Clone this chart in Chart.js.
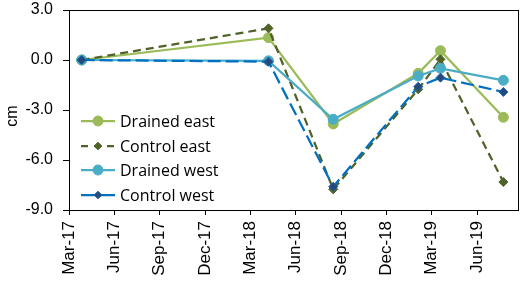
<!DOCTYPE html>
<html>
<head>
<meta charset="utf-8">
<script src="https://cdn.jsdelivr.net/npm/chart.js@4.4.1/dist/chart.umd.min.js"></script>
<style>
html,body{margin:0;padding:0;background:#fff;}
canvas{display:block;}
</style>
</head>
<body>
<canvas id="c" width="524" height="282"></canvas>
<script>
// Sampling dates and measured values (cm)
const dates = ['2017-03-27', '2018-04-07', '2018-08-16', '2019-02-04', '2019-03-19', '2019-07-24'];
const drainedEast = [0.0, 1.34, -3.84, -0.80, 0.56, -3.44];
const controlEast = [0.0, 1.90, -7.76, -1.76, 0.04, -7.32];
const drainedWest = [0.0, -0.05, -3.56, -0.96, -0.50, -1.22];
const controlWest = [0.0, -0.10, -7.60, -1.60, -1.06, -1.92];
const xTickLabels = ['Mar-17', 'Jun-17', 'Sep-17', 'Dec-17', 'Mar-18', 'Jun-18', 'Sep-18', 'Dec-18', 'Mar-19', 'Jun-19'];
const yTickValues = [-9, -6, -3, 0, 3];
const seriesNames = ['Drained east', 'Control east', 'Drained west', 'Control west'];

// months since 1 Mar 2017
function monthIndex(s) {
  const [y, m, d] = s.split('-').map(Number);
  const dim = new Date(y, m, 0).getDate();
  return (y - 2017) * 12 + (m - 3) + (d - 1) / dim;
}
const xs = dates.map(monthIndex);
const pts = arr => arr.map((v, i) => ({x: xs[i], y: v}));

const styles = [
  {color: '#9BBB59', fill: '#9BBB59', border: '#9BBB59', dash: [], point: 'circle', r: 5},
  {color: '#4F6228', fill: '#4F6228', border: '#4F6228', dash: [8, 5], point: 'rectRot', r: 4.5},
  {color: '#4BACC6', fill: '#4BACC6', border: '#4BACC6', dash: [], point: 'circle', r: 5},
  {color: '#0070C0', fill: '#254A7C', border: '#1F5C9C', dash: [13, 5], point: 'rectRot', r: 4.5}
];
const values = [drainedEast, controlEast, drainedWest, controlWest];

const datasets = values.map((arr, i) => ({
  label: seriesNames[i],
  data: pts(arr),
  borderColor: styles[i].color,
  borderWidth: 2.25,
  borderDash: styles[i].dash,
  pointStyle: styles[i].point,
  pointRadius: styles[i].r,
  pointBackgroundColor: styles[i].fill,
  pointBorderColor: styles[i].border,
  pointBorderWidth: 1,
  tension: 0,
  fill: false,
  order: 4 - i
}));

const extras = {
  id: 'extras',
  afterDraw(chart) {
    const ctx = chart.ctx;
    const a = chart.chartArea;
    ctx.save();
    ctx.strokeStyle = '#000';
    ctx.lineWidth = 1;
    ctx.strokeRect(Math.round(a.left) + 0.5, Math.round(a.top) + 0.5, Math.round(a.right - a.left), Math.round(a.bottom - a.top));
    // y title
    ctx.fillStyle = '#000';
    ctx.font = '16px "Liberation Sans", Arial, sans-serif';
    ctx.translate(13, 116);
    ctx.rotate(-Math.PI / 2);
    ctx.textAlign = 'center';
    ctx.textBaseline = 'middle';
    ctx.fillText('cm', 0, 0);
    ctx.restore();
    // legend
    ctx.save();
    const x0 = 81, x1 = 115, xm = 98, tx = 120;
    const rows = [121, 146, 170, 195];
    seriesNames.forEach((name, i) => {
      const s = styles[i];
      const y = rows[i];
      ctx.strokeStyle = s.color;
      ctx.lineWidth = 2.25;
      ctx.setLineDash(i === 1 ? [7, 6] : []);
      ctx.beginPath();
      ctx.moveTo(x0, y); ctx.lineTo(x1, y); ctx.stroke();
      ctx.setLineDash([]);
      ctx.fillStyle = s.fill;
      ctx.strokeStyle = s.border;
      ctx.lineWidth = 1;
      ctx.beginPath();
      if (s.point === 'circle') {
        ctx.arc(xm, y, s.r, 0, Math.PI * 2);
      } else {
        const r = s.r * 0.85;
        ctx.moveTo(xm, y - r); ctx.lineTo(xm + r, y); ctx.lineTo(xm, y + r); ctx.lineTo(xm - r, y); ctx.closePath();
      }
      ctx.fill(); ctx.stroke();
      ctx.fillStyle = '#000';
      ctx.font = '16px "Open Sans", sans-serif';
      ctx.textAlign = 'left';
      ctx.textBaseline = 'middle';
      ctx.fillText(name, tx, y + 1);
    });
    ctx.restore();
  }
};

new Chart(document.getElementById('c'), {
  type: 'line',
  data: {datasets},
  options: {
    responsive: false,
    devicePixelRatio: 1,
    animation: false,
    layout: {padding: {top: 10, right: 6, left: 0, bottom: 0}},
    plugins: {legend: {display: false}, tooltip: {enabled: false}},
    scales: {
      x: {
        type: 'linear',
        min: 0,
        max: 29.71,
        afterBuildTicks: s => { s.ticks = xTickLabels.map((_, i) => ({value: i * 3})); },
        afterFit: s => { s.height = 72; s.paddingLeft = 0; s.paddingRight = 0; },
        ticks: {
          callback: v => xTickLabels[Math.round(v / 3)],
          minRotation: 90, maxRotation: 90,
          autoSkip: false,
          color: '#000',
          padding: 6,
          font: {family: '"Liberation Sans", Arial, sans-serif', size: 17}
        },
        grid: {drawOnChartArea: false, drawTicks: true, tickLength: 5, color: '#000', tickColor: '#000'},
        border: {color: '#000', width: 1}
      },
      y: {
        type: 'linear',
        min: -9,
        max: 3,
        afterBuildTicks: s => { s.ticks = yTickValues.map(v => ({value: v})); },
        afterFit: s => { s.width = 69; s.paddingTop = 0; s.paddingBottom = 0; },
        ticks: {
          callback: v => v.toFixed(1),
          color: '#000',
          padding: 10,
          font: {family: '"Liberation Sans", Arial, sans-serif', size: 16}
        },
        grid: {drawOnChartArea: false, drawTicks: true, tickLength: 6, color: '#000', tickColor: '#000'},
        border: {color: '#000', width: 1}
      }
    }
  },
  plugins: [extras]
});
</script>
</body>
</html>
